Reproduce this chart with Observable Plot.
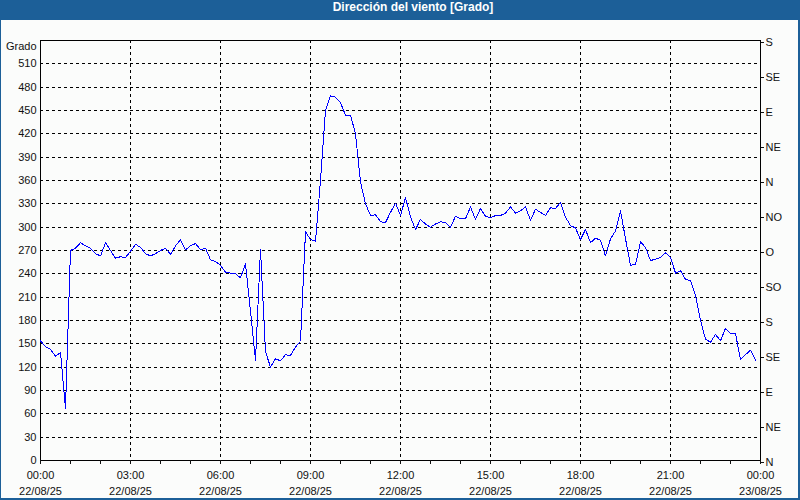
<!DOCTYPE html>
<html>
<head>
<meta charset="utf-8">
<script src="https://cdn.jsdelivr.net/npm/d3@7"></script>
<script src="https://cdn.jsdelivr.net/npm/@observablehq/plot@0.6"></script>
<style>
  html, body { margin: 0; padding: 0; background: #fbfcfb; overflow: hidden; }
  #wrap { position: relative; width: 800px; height: 500px; }
  #title { height: 20px; line-height: 20px; background: #1c5f98; color: #fff;
           font: bold 12px "Liberation Sans", Arial, sans-serif; text-align: center;
           padding-left: 26px; box-sizing: border-box; }
  #border { position: absolute; left: 0; top: 0; width: 800px; height: 500px; box-sizing: border-box;
            border-left: 1px solid #1c5f98; border-right: 2px solid #1c5f98; border-bottom: 2px solid #1c5f98;
            pointer-events: none; }
</style>
</head>
<body>
<div id="wrap">
  <div id="title">Dirección del viento [Grado]</div>
  <div id="chart"></div>
  <div id="border"></div>
</div>
<script>
// ---- data (10-minute samples starting 22/08/25 00:00) ----
const startTime = "2025-08-22T00:00:00Z";
const stepMinutes = 10;
const direction = [
  154, 146, 143, 134, 139, 67, 270, 273, 280, 276, 273, 266,
  263, 280, 270, 260, 262, 261, 269, 278, 274, 266, 263, 266,
  270, 273, 265, 276, 284, 271, 276, 279, 271, 273, 258, 256,
  251, 242, 241, 240, 235, 253, 192, 129, 271, 140, 120, 131,
  128, 136, 135, 146, 153, 294, 284, 282, 360, 450, 469, 467,
  460, 444, 444, 420, 358, 330, 315, 316, 307, 306, 319, 331,
  315, 338, 313, 297, 310, 304, 300, 304, 307, 306, 300, 314,
  311, 311, 326, 310, 324, 314, 312, 315, 315, 318, 326, 318,
  321, 326, 309, 323, 319, 315, 325, 324, 332, 313, 302, 299,
  284, 297, 280, 286, 283, 263, 285, 295, 321, 285, 251, 252,
  281, 274, 257, 259, 261, 267, 261, 241, 244, 233, 231, 212,
  180, 156, 152, 162, 154, 170, 163, 163, 130, 136, 142, 129
];

// ---- axis ticks / labels ----
const yTicks = [0, 30, 60, 90, 120, 150, 180, 210, 240, 270, 300, 330, 360, 390, 420, 450, 480, 510];
const yGrid = [30, 60, 90, 120, 150, 180, 210, 240, 270, 300, 330, 360, 390, 420, 450, 480, 510];
const compassTicks = [0, 45, 90, 135, 180, 225, 270, 315, 360, 405, 450, 495, 540];
const compassLabels = ["N", "NE", "E", "SE", "S", "SO", "O", "NO", "N", "NE", "E", "SE", "S"];
const xTickStrings = ["2025-08-22T00:00:00Z", "2025-08-22T03:00:00Z", "2025-08-22T06:00:00Z",
  "2025-08-22T09:00:00Z", "2025-08-22T12:00:00Z", "2025-08-22T15:00:00Z", "2025-08-22T18:00:00Z",
  "2025-08-22T21:00:00Z", "2025-08-23T00:00:00Z"];
const timeLabels = ["00:00", "03:00", "06:00", "09:00", "12:00", "15:00", "18:00", "21:00", "00:00"];
const dateLabels = ["22/08/25", "22/08/25", "22/08/25", "22/08/25", "22/08/25", "22/08/25", "22/08/25", "22/08/25", "23/08/25"];
const yLabel = "Grado";

// ---- build table ----
const t0 = new Date(startTime).getTime();
const data = direction.map((v, i) => ({ time: new Date(t0 + i * stepMinutes * 60000), value: v }));
const xTicks = xTickStrings.map(s => new Date(s));
const xGrid = xTicks.slice(1, -1);
const hourTicks = d3.utcHour.range(xTicks[0], new Date(xTicks[xTicks.length - 1].getTime() + 1));
const idxOf = d => xTicks.findIndex(t => +t === +d);

const chart = Plot.plot({
  width: 800,
  height: 480,
  marginTop: 20,
  marginBottom: 40,
  marginLeft: 40,
  marginRight: 40,
  style: { fontFamily: "'Liberation Sans', Arial, sans-serif", fontSize: "11px", color: "#111", background: "#fbfcfb" },
  x: { type: "utc", domain: [xTicks[0], xTicks[xTicks.length - 1]] },
  y: { domain: [0, 540] },
  marks: [
    Plot.ruleY(yGrid, { stroke: "#000", strokeDasharray: "3,3", shapeRendering: "crispEdges" }),
    Plot.ruleX(xGrid, { stroke: "#000", strokeDasharray: "3,3", shapeRendering: "crispEdges" }),
    Plot.frame({ stroke: "#000", shapeRendering: "crispEdges" }),
    Plot.line(data, { x: "time", y: "value", stroke: "#0000ff", strokeWidth: 1, shapeRendering: "crispEdges" }),
    Plot.axisY(yTicks, { anchor: "left", tickSize: 0, tickPadding: 4, label: null, fill: "#111" }),
    Plot.axisY(compassTicks, { anchor: "right", tickSize: 3, tickPadding: 2, label: null, dy: 2, fill: "#111",
      tickFormat: d => compassLabels[compassTicks.indexOf(d)] }),
    Plot.axisX(hourTicks, { anchor: "bottom", tickSize: 4, tickFormat: () => "", label: null }),
    Plot.axisX(xTicks, { anchor: "bottom", tickSize: 0, tickPadding: 11, label: null, fill: "#111",
      tickFormat: d => timeLabels[idxOf(d)] }),
    Plot.axisX(xTicks, { anchor: "bottom", tickSize: 0, tickPadding: 27, label: null, fill: "#111",
      tickFormat: d => dateLabels[idxOf(d)] }),
    Plot.text([yLabel], { frameAnchor: "top-left", textAnchor: "end", dx: -4, dy: 2, fill: "#111", fontSize: 11 })
  ]
});
document.getElementById("chart").appendChild(chart);
</script>
</body>
</html>
